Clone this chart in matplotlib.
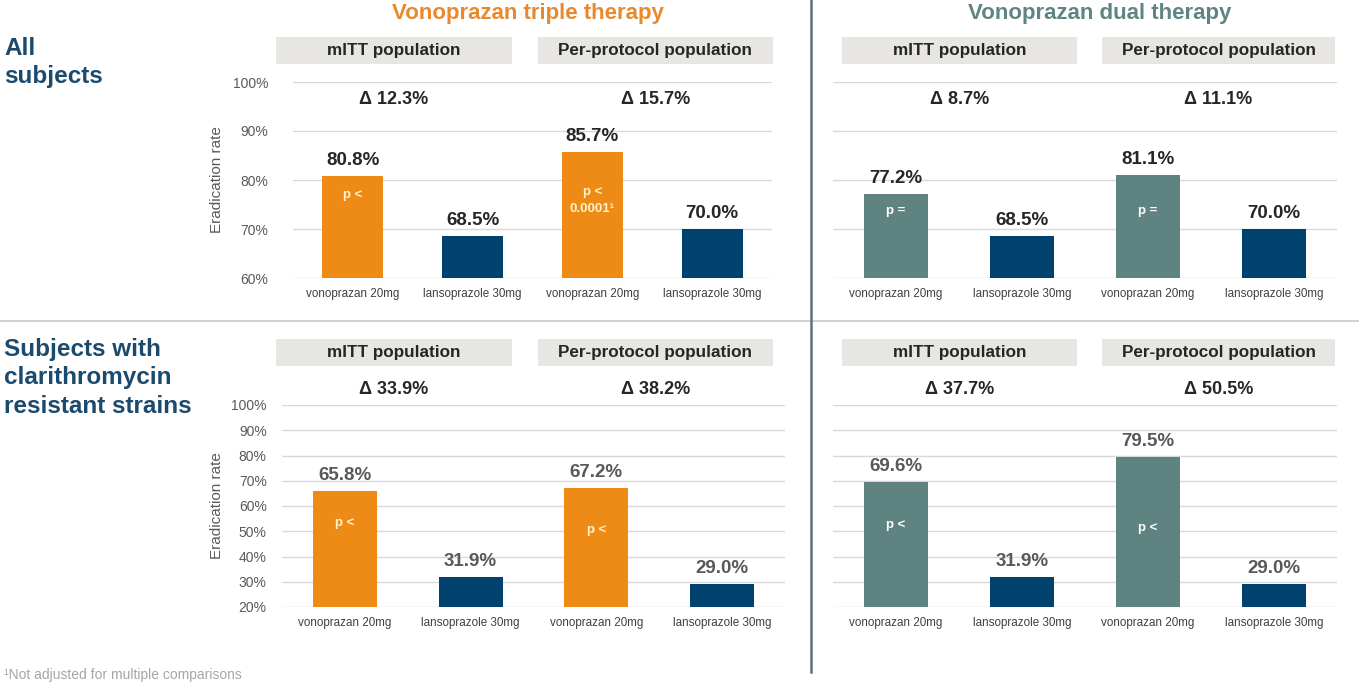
import matplotlib
matplotlib.use('Agg')
import matplotlib.pyplot as plt
from matplotlib import font_manager
from matplotlib.patches import Rectangle
from matplotlib.lines import Line2D

# ---------------- data ----------------
categories = ['vonoprazan 20mg', 'lansoprazole 30mg', 'vonoprazan 20mg', 'lansoprazole 30mg']
populations = ['mITT population', 'Per-protocol population']
therapies = ['Vonoprazan triple therapy', 'Vonoprazan dual therapy']
row_labels = ['All\nsubjects', 'Subjects with\nclarithromycin\nresistant strains']

triple_all = [80.8, 68.5, 85.7, 70.0]
dual_all = [77.2, 68.5, 81.1, 70.0]
triple_resist = [65.8, 31.9, 67.2, 29.0]
dual_resist = [69.6, 31.9, 79.5, 29.0]

p_triple_all = ['p <', 'p <\n0.0001¹']
p_dual_all = ['p =', 'p =']
p_triple_resist = ['p <', 'p <']
p_dual_resist = ['p <', 'p <']

ticks_all = [60, 70, 80, 90, 100]
ticks_resist = [20, 30, 40, 50, 60, 70, 80, 90, 100]
ylabel = 'Eradication rate'
footnote = '¹Not adjusted for multiple comparisons'

# ---------------- style ----------------
W, H = 1359, 682
available = {f.name for f in font_manager.fontManager.ttflist}
SANS = 'Liberation Sans' if 'Liberation Sans' in available else 'DejaVu Sans'
NARROW = 'Liberation Sans Narrow' if 'Liberation Sans Narrow' in available else SANS
plt.rcParams['font.family'] = [SANS, 'DejaVu Sans']

ORANGE = '#EE8B17'
TEAL = '#5E8381'
NAVY = '#00416D'
TITLE_OR = '#E8892E'
TITLE_TEAL = '#5E8582'
ROWBLUE = '#1B4A6F'
GRID = '#D9D9D9'
BOX = '#E8E6E3'
DARK = '#262626'
GREY = '#595959'

fig = plt.figure(figsize=(W / 100, H / 100), dpi=100)


def px_rect(x0, y0, x1, y1):
    return [x0 / W, 1 - y1 / H, (x1 - x0) / W, (y1 - y0) / H]


def fx(x):
    return x / W


def fy(y):
    return 1 - y / H


panels = [
    dict(vals=triple_all, p=p_triple_all, ticks=ticks_all, rect=(293, 82, 772, 278),
         color=ORANGE, pcol='#FFF2CC', vcol=DARK, showy=True, py=[77.0, 75.8], pad=18,
         boxes=[(276, 512), (538, 773)], box_y=(37, 64), delta_y=99),
    dict(vals=dual_all, p=p_dual_all, ticks=ticks_all, rect=(833, 82, 1337, 278),
         color=TEAL, pcol='white', vcol=DARK, showy=False, py=[73.6, 73.6], pad=18,
         boxes=[(842, 1077), (1102, 1335)], box_y=(37, 64), delta_y=99),
    dict(vals=triple_resist, p=p_triple_resist, ticks=ticks_resist, rect=(282, 405, 785, 607),
         color=ORANGE, pcol='#FFF2CC', vcol=GREY, showy=True, py=[53.3, 50.6], pad=11,
         boxes=[(276, 512), (538, 773)], box_y=(339, 366), delta_y=389),
    dict(vals=dual_resist, p=p_dual_resist, ticks=ticks_resist, rect=(833, 405, 1337, 607),
         color=TEAL, pcol='white', vcol=GREY, showy=False, py=[52.5, 51.3], pad=11,
         boxes=[(842, 1077), (1102, 1335)], box_y=(339, 366), delta_y=389),
]

for pn in panels:
    ax = fig.add_axes(px_rect(*pn['rect']))
    vals = pn['vals']
    x = list(range(len(vals)))
    colors = [pn['color'], NAVY, pn['color'], NAVY]
    ax.bar(x, vals, width=0.51, color=colors, zorder=3)
    ax.set_xlim(-0.5, 3.5)
    ax.set_ylim(pn['ticks'][0], pn['ticks'][-1])
    ax.set_yticks(pn['ticks'])
    ax.yaxis.grid(True, color=GRID, linewidth=1.0, zorder=0)
    ax.set_axisbelow(True)
    for s in ax.spines.values():
        s.set_visible(False)
    ax.set_xticks(x)
    ax.set_xticklabels(categories, fontsize=8.4, color='#404040')
    ax.tick_params(axis='x', length=0, pad=7)
    axw = pn['rect'][2] - pn['rect'][0]
    if pn['showy']:
        ax.set_yticklabels([f'{t}%' for t in pn['ticks']], fontsize=10, color=GREY)
        ax.tick_params(axis='y', length=0, pad=pn['pad'])
        ax.set_ylabel(ylabel, fontsize=11, color=GREY)
        ax.yaxis.set_label_coords((224 - pn['rect'][0]) / axw, 0.5)
    else:
        ax.set_yticklabels([])
        ax.tick_params(axis='y', length=0)
    # value labels
    for xi, v in zip(x, vals):
        ax.annotate(f'{v:.1f}%', (xi, v), xytext=(0, 5), textcoords='offset points',
                    ha='center', va='bottom', fontsize=13.5, fontweight='bold', color=pn['vcol'])
    # p labels inside vonoprazan bars
    for xi, lab, yy in zip([0, 2], pn['p'], pn['py']):
        ax.text(xi, yy, lab, ha='center', va='center', fontsize=9.5, fontweight='bold',
                color=pn['pcol'], linespacing=1.5, zorder=4)
    # header boxes + deltas
    for (bx0, bx1), pop, (i0, i1) in zip(pn['boxes'], populations, [(0, 1), (2, 3)]):
        by0, by1 = pn['box_y']
        fig.patches.append(Rectangle((fx(bx0), fy(by1)), (bx1 - bx0) / W, (by1 - by0) / H,
                                     transform=fig.transFigure, facecolor=BOX, edgecolor='none'))
        fig.text(fx((bx0 + bx1) / 2), fy((by0 + by1) / 2), pop, ha='center', va='center',
                 fontsize=12.3, fontweight='bold', color=DARK)
        delta = vals[i0] - vals[i1]
        fig.text(fx((bx0 + bx1) / 2), fy(pn['delta_y']), f'Δ {delta:.1f}%', ha='center', va='center',
                 fontsize=13, fontweight='bold', color=DARK)

# therapy titles
fig.text(fx(528), fy(14), therapies[0], ha='center', va='center', fontsize=16, fontweight='bold',
         color=TITLE_OR, family=[NARROW, 'DejaVu Sans'])
fig.text(fx(1100), fy(14), therapies[1], ha='center', va='center', fontsize=16, fontweight='bold',
         color=TITLE_TEAL, family=[NARROW, 'DejaVu Sans'])

# row labels
fig.text(fx(4), fy(37), row_labels[0], ha='left', va='top', fontsize=17.5, fontweight='bold',
         color=ROWBLUE, linespacing=1.3)
fig.text(fx(4), fy(338), row_labels[1], ha='left', va='top', fontsize=17.5, fontweight='bold',
         color=ROWBLUE, linespacing=1.3)

# dividers
fig.add_artist(Line2D([0, 1], [fy(321), fy(321)], transform=fig.transFigure, color='#C8C8C8', linewidth=1.2))
fig.add_artist(Line2D([fx(811), fx(811)], [fy(0), fy(672)], transform=fig.transFigure, color='#5A7282', linewidth=1.8))

# footnote
fig.text(fx(4), fy(675), footnote, ha='left', va='center', fontsize=10, color='#A6A6A6')

fig.savefig('out.png', dpi=100, facecolor='white')
